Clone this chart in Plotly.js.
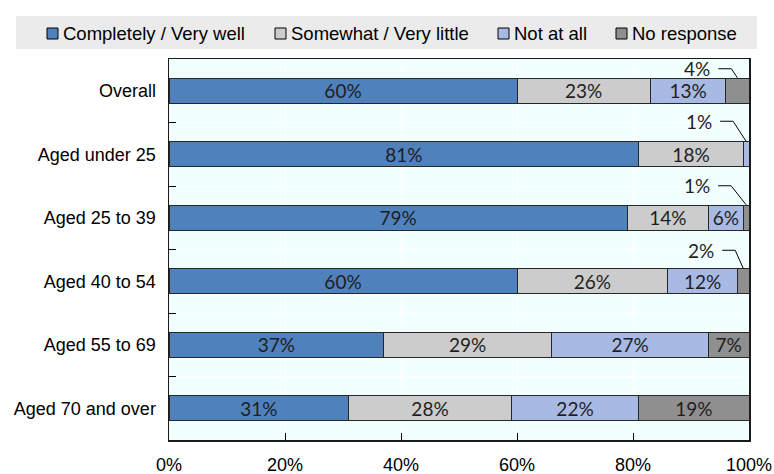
<!DOCTYPE html>
<html><head><meta charset="utf-8">
<script src="https://cdn.plot.ly/plotly-3.0.1.min.js"></script>
<style>html,body{margin:0;padding:0;background:#fff}#chart{width:774px;height:474px}</style>
</head><body><div id="chart"></div>
<script>
// Respondent groups and the share of answers in each category (%)
const groups = ['Overall', 'Aged under 25', 'Aged 25 to 39', 'Aged 40 to 54', 'Aged 55 to 69', 'Aged 70 and over'];
const completelyVeryWell = [60, 81, 79, 60, 37, 31];
const somewhatVeryLittle = [23, 18, 14, 26, 29, 28];
const notAtAll = [13, 1, 6, 12, 27, 22];
const noResponse = [4, 0, 1, 2, 7, 19];
const seriesNames = ['Completely / Very well', 'Somewhat / Very little', 'Not at all', 'No response'];
const xTickValues = [0, 20, 40, 60, 80, 100];
const xTickLabels = ['0%', '20%', '40%', '60%', '80%', '100%'];

const seriesValues = [completelyVeryWell, somewhatVeryLittle, notAtAll, noResponse];
const seriesColors = ['#4F81BD', '#CCCCCC', '#A8B9E3', '#8F8F8F'];

const W = 774, H = 474, M = {l: 169, r: 25, t: 59, b: 34};
const PW = W - M.l - M.r, PH = H - M.t - M.b;
const px = x => (x - M.l) / PW;
const py = y => (H - M.b - y) / PH;

const INSIDE_MIN = 5; // smaller segments get a callout above the bar
const barFont = {family: 'Lato, "Open Sans", sans-serif', size: 19, color: '#1E1E1E'};
const axisFont = {family: '"Liberation Sans", Arial, sans-serif', size: 18, color: '#000'};
const legendFont = {family: '"Liberation Sans", Arial, sans-serif', size: 18.5, color: '#000'};

const traces = seriesValues.map((vals, i) => ({
  type: 'bar', orientation: 'h', y: groups, x: vals, name: seriesNames[i],
  marker: {color: seriesColors[i], line: {color: '#262626', width: 1}},
  text: vals.map(v => v >= INSIDE_MIN ? v + '%' : ''),
  textposition: 'inside', insidetextanchor: 'middle', textangle: 0,
  insidetextfont: barFont, constraintext: 'none',
  hoverinfo: 'skip', width: 0.4, showlegend: false
}));

// Leader-line geometry (pixels) for the callout labels
const calloutStyle = {
  'Overall': {lift: 22, bend: 6},
  'Aged under 25': {lift: 33, bend: 13},
  'Aged 25 to 39': {lift: 32, bend: 15},
  'Aged 40 to 54': {lift: 31, bend: 8}
};

const shapes = [];
const annotations = [];

groups.forEach((g, gi) => {
  let start = 0;
  seriesValues.forEach(vals => {
    const v = vals[gi];
    if (v > 0 && v < INSIDE_MIN && calloutStyle[g]) {
      const c = start + v / 2;
      const st = calloutStyle[g];
      shapes.push({
        type: 'path', xref: 'x', yref: 'y', xsizemode: 'pixel', ysizemode: 'pixel',
        xanchor: c, yanchor: g,
        path: `M ${-st.bend - 13},${st.lift} L ${-st.bend},${st.lift} L 0,13`,
        line: {color: '#000', width: 1}
      });
      annotations.push({
        x: c, y: g, xref: 'x', yref: 'y', text: v + '%', showarrow: false,
        xanchor: 'right', yanchor: 'middle', xshift: -st.bend - 19, yshift: st.lift,
        font: barFont
      });
    }
    start += v;
  });
});

// Legend band across the top
shapes.push({
  type: 'rect', xref: 'paper', yref: 'paper', layer: 'below',
  x0: px(16), x1: px(757), y0: py(49), y1: py(16),
  fillcolor: '#EBEBEB', line: {width: 0}
});
const legendX = [47, 275, 498, 616];
seriesNames.forEach((name, i) => {
  shapes.push({
    type: 'rect', xref: 'paper', yref: 'paper',
    x0: px(legendX[i]), x1: px(legendX[i] + 11), y0: py(39), y1: py(28),
    fillcolor: seriesColors[i], line: {color: '#000', width: 1}
  });
  annotations.push({
    xref: 'paper', yref: 'paper', x: px(legendX[i] + 14), y: py(33.5),
    xanchor: 'left', yanchor: 'middle', showarrow: false, text: name, font: legendFont
  });
});

const layout = {
  width: W, height: H,
  margin: M,
  paper_bgcolor: '#FFFFFF', plot_bgcolor: '#F2FFFF',
  barmode: 'stack', showlegend: false,
  font: axisFont,
  xaxis: {
    range: [0, 100], tickmode: 'array', tickvals: xTickValues, ticktext: xTickLabels,
    ticks: 'inside', ticklen: 7, tickcolor: '#000', tickwidth: 1,
    showgrid: true, gridcolor: '#FFFFFF', gridwidth: 1,
    showline: true, mirror: true, linecolor: '#1A1A1A', linewidth: 1.5,
    zeroline: false, tickfont: axisFont, ticklabelstandoff: 8, fixedrange: true
  },
  yaxis: {
    type: 'category', categoryorder: 'array', categoryarray: groups, autorange: 'reversed',
    tickson: 'boundaries', ticks: 'inside', ticklen: 7, tickcolor: '#000', tickwidth: 1,
    showgrid: true, gridcolor: '#FFFFFF', gridwidth: 1,
    showline: true, mirror: true, linecolor: '#1A1A1A', linewidth: 1.5,
    zeroline: false, tickfont: axisFont, ticklabelstandoff: 8, fixedrange: true
  },
  shapes: shapes,
  annotations: annotations
};

Plotly.newPlot('chart', traces, layout, {displayModeBar: false, staticPlot: true});
</script>
</body></html>
